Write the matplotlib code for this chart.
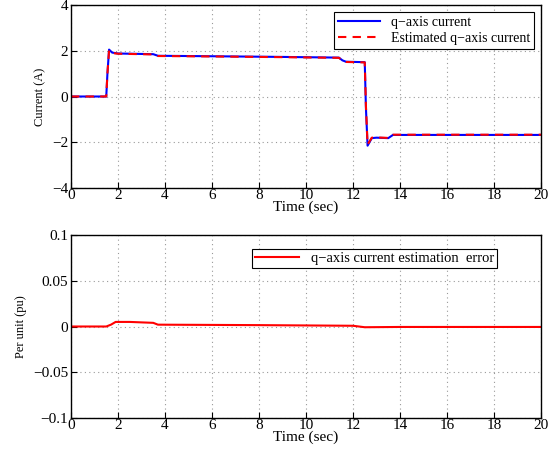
import numpy as np
import matplotlib.pyplot as plt

plt.rcParams['font.family'] = ['Liberation Serif', 'DejaVu Serif']
plt.rcParams['font.size'] = 10

# q-axis current (A), breakpoints
t_cur = [0, 1.5, 1.55, 1.62, 1.75, 2.0, 3.5, 3.7, 6, 9, 11.4, 11.55, 11.7, 12.5, 12.55, 12.62, 12.8, 13.0, 13.5, 13.7, 20]
i_q = [0, 0, 1.0, 2.05, 1.92, 1.88, 1.85, 1.78, 1.76, 1.73, 1.70, 1.58, 1.52, 1.50, -0.5, -2.15, -1.82, -1.80, -1.82, -1.68, -1.68]
i_q_est = [0, 0, 1.0, 2.02, 1.90, 1.87, 1.84, 1.77, 1.75, 1.72, 1.69, 1.57, 1.51, 1.49, -0.4, -2.10, -1.80, -1.79, -1.81, -1.67, -1.67]

# estimation error (pu)
t_err = [0, 1.5, 1.7, 1.9, 2.5, 3.5, 3.7, 8, 12, 12.5, 14, 20]
err = [0, 0, 0.002, 0.005, 0.005, 0.004, 0.002, 0.0015, 0.0008, -0.0008, -0.0005, -0.0005]

fig = plt.figure(figsize=(5.55, 4.54), dpi=100)
ax1 = fig.add_axes([71 / 555, 1 - 188 / 454, 470 / 555, 183 / 454])
ax2 = fig.add_axes([71 / 555, 1 - 418 / 454, 470 / 555, 183 / 454])

ax1.plot(t_cur, i_q, color='blue', lw=1.5, label='q\u2212axis current')
ax1.plot(t_cur, i_q_est, color='red', lw=1.5, ls='--', dashes=(4, 3), label='Estimated q\u2212axis current')
ax1.set_xlim(0, 20)
ax1.set_ylim(-4, 4)
ax1.set_xticks(range(0, 21, 2))
ax1.set_yticks([-4, -2, 0, 2, 4])
ax1.set_yticklabels(['\u22124', '\u22122', '0', '2', '4'])
ax1.set_xlabel('Time (sec)', fontsize=11, labelpad=-1)
ax1.set_ylabel('Current (A)', fontsize=9, labelpad=4)
leg1 = ax1.legend(loc='upper right', fancybox=False, framealpha=1, edgecolor='black',
                  handlelength=3, borderpad=0.3, labelspacing=0.2, borderaxespad=0.5)
leg1.get_frame().set_linewidth(0.8)

ax2.plot(t_err, err, color='red', lw=1.5, label='q\u2212axis current estimation  error')
ax2.set_xlim(0, 20)
ax2.set_ylim(-0.1, 0.1)
ax2.set_xticks(range(0, 21, 2))
ax2.set_yticks([-0.1, -0.05, 0, 0.05, 0.1])
ax2.set_yticklabels(['\u22120.1', '\u22120.05', '0', '0.05', '0.1'])
ax2.set_xlabel('Time (sec)', fontsize=11, labelpad=-1)
ax2.set_ylabel('Per unit (pu)', fontsize=9, labelpad=4)
leg2 = ax2.legend(loc='upper right', bbox_to_anchor=(0.915, 0.95), fancybox=False, framealpha=1,
                  edgecolor='black', handlelength=3, borderpad=0.2, borderaxespad=0.3, fontsize=10.5)
leg2.get_frame().set_linewidth(0.8)

for ax in (ax1, ax2):
    ax.grid(True, color='#999999', ls=(0, (1, 3)), lw=0.8)
    ax.tick_params(direction='in', length=4, labelsize=11, pad=2)
    ax.tick_params(axis='x', pad=1)
    for s in ax.spines.values():
        s.set_linewidth(1.0)

fig.savefig('out.png', dpi=100)
